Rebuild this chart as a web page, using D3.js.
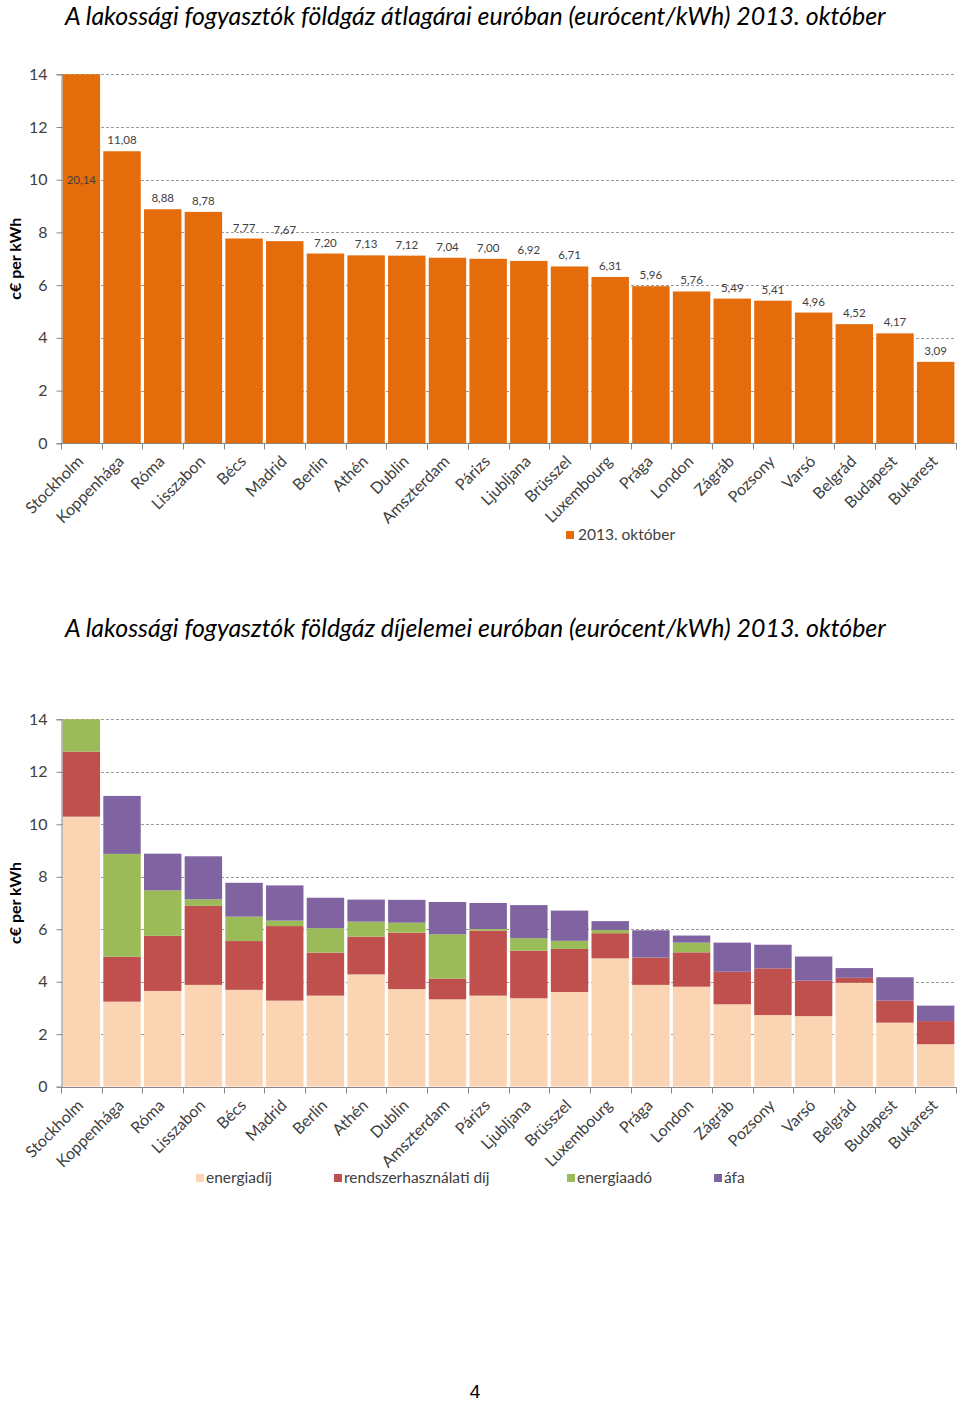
<!DOCTYPE html>
<html><head><meta charset="utf-8">
<script src="https://cdn.jsdelivr.net/npm/d3@7"></script>
<style>body{margin:0;background:#fff}svg{display:block}</style>
</head><body><svg id="c" width="960" height="1401"></svg>
<script>
const categories = ["Stockholm","Koppenhága","Róma","Lisszabon","Bécs","Madrid","Berlin","Athén","Dublin","Amszterdam","Párizs","Ljubljana","Brüsszel","Luxembourg","Prága","London","Zágráb","Pozsony","Varsó","Belgrád","Budapest","Bukarest"];
const avgPrices = [20.14,11.08,8.88,8.78,7.77,7.67,7.20,7.13,7.12,7.04,7.00,6.92,6.71,6.31,5.96,5.76,5.49,5.41,4.96,4.52,4.17,3.09];
const energiadij = [10.29,3.24,3.65,3.88,3.69,3.28,3.47,4.28,3.72,3.33,3.47,3.37,3.61,4.89,3.88,3.81,3.14,2.73,2.69,3.96,2.44,1.62];
const rendszerdij = [2.48,1.71,2.10,3.01,1.86,2.84,1.64,1.44,2.15,0.79,2.48,1.81,1.64,0.96,1.04,1.31,1.24,1.78,1.35,0.19,0.84,0.88];
const energiaado = [3.34,3.92,1.73,0.25,0.93,0.21,0.93,0.57,0.38,1.69,0.06,0.48,0.31,0.12,0,0.37,0,0,0,0,0,0];
const afa = [4.03,2.21,1.40,1.64,1.29,1.34,1.16,0.84,0.87,1.23,0.99,1.26,1.15,0.34,1.04,0.27,1.11,0.90,0.92,0.37,0.89,0.59];
const yTicks = [0,2,4,6,8,10,12,14];
const seriesNames = ["energiadíj","rendszerhasználati díj","energiaadó","áfa"];
const seriesColors = ["#FBD4B4","#C0504D","#9BBB59","#8064A2"];
const barColor = "#E46C0A";
const title1 = "A lakossági fogyasztók földgáz átlagárai euróban (eurócent/kWh) 2013. október";
const title2 = "A lakossági fogyasztók földgáz díjelemei euróban (eurócent/kWh) 2013. október";
const yTitle = "c€ per kWh";
const legend1 = "2013. október";

const FONT = "Lato, 'Open Sans', sans-serif";
const svg = d3.select("#c");
const X0 = 61, X1 = 956;
const x = d3.scaleBand().domain(categories).range([X0, X1]).paddingInner(0.08).paddingOuter(0.04);

function fitText(sel, target) {
  const w = sel.node().getComputedTextLength();
  const fs = parseFloat(sel.attr("font-size"));
  sel.attr("font-size", fs * target / w);
}

function title(txt, y) {
  const t = svg.append("text").attr("x", 65).attr("y", y).attr("font-family", FONT)
    .attr("font-style", "italic").attr("font-size", 22).attr("fill", "#000").text(txt);
  fitText(t, 821);
}

function frame(y, id) {
  const g = svg.append("g");
  g.selectAll("line.grid").data(yTicks.filter(d => d > 0)).join("line")
    .attr("x1", X0).attr("x2", X1).attr("y1", d => Math.round(y(d)) + 0.5).attr("y2", d => Math.round(y(d)) + 0.5)
    .attr("stroke", "#9a9a9a").attr("stroke-dasharray", "3,2").attr("stroke-width", 1);
  svg.append("clipPath").attr("id", id).append("rect")
    .attr("x", X0).attr("y", y(14)).attr("width", X1 - X0).attr("height", y(0) - y(14));
  return g;
}

function axes(y) {
  const g = svg.append("g");
  const yAx = g.append("g").attr("transform", `translate(${X0 + 0.5},0)`)
    .call(d3.axisLeft(y).tickValues(yTicks).tickSize(5).tickPadding(9).tickFormat(d3.format("d")));
  yAx.select(".domain").attr("stroke", "#868686");
  yAx.selectAll(".tick line").attr("stroke", "#868686");
  yAx.selectAll(".tick text").attr("font-family", FONT).attr("font-size", 16).attr("fill", "#404040");
  const y0 = Math.round(y(0)) + 0.5;
  g.append("line").attr("x1", X0).attr("x2", X1 + 1).attr("y1", y0).attr("y2", y0).attr("stroke", "#868686");
  g.selectAll("line.xt").data(d3.range(categories.length + 1)).join("line")
    .attr("x1", i => Math.round(X0 + i * x.step()) + 0.5).attr("x2", i => Math.round(X0 + i * x.step()) + 0.5)
    .attr("y1", y0).attr("y2", y0 + 6).attr("stroke", "#868686");
  g.selectAll("text.xl").data(categories).join("text")
    .attr("transform", d => `translate(${x(d) + x.bandwidth() / 2 - 1},${y0 + 15}) rotate(-45)`)
    .attr("text-anchor", "end").attr("dy", "0.35em")
    .attr("font-family", FONT).attr("font-size", 16).attr("fill", "#404040").text(d => d);
  const yc = (y(0) + y(14)) / 2;
  g.append("text").attr("transform", `translate(21,${yc}) rotate(-90)`).attr("text-anchor", "middle")
    .attr("font-family", FONT).attr("font-size", 16).attr("font-weight", "bold").attr("fill", "#000").text(yTitle);
}

// ---- Chart 1 ----
title(title1, 25);
const y1 = d3.scaleLinear().domain([0, 14]).range([443.3, 74.3]);
frame(y1, "clip1");
svg.append("g").attr("clip-path", "url(#clip1)").selectAll("rect").data(categories).join("rect")
  .attr("x", d => x(d)).attr("width", x.bandwidth())
  .attr("y", (d, i) => y1(avgPrices[i])).attr("height", (d, i) => y1(0) - y1(avgPrices[i]))
  .attr("fill", barColor);
svg.append("g").selectAll("text").data(categories).join("text")
  .attr("x", d => x(d) + x.bandwidth() / 2)
  .attr("y", (d, i) => avgPrices[i] > 14 ? y1(10) + 4 : y1(avgPrices[i]) - 7)
  .attr("text-anchor", "middle").attr("font-family", FONT).attr("font-size", 11.5).attr("fill", "#404040")
  .text((d, i) => d3.format(".2f")(avgPrices[i]).replace(".", ","));
axes(y1);
const lg1 = svg.append("g").attr("transform", "translate(566,531)");
lg1.append("rect").attr("width", 8).attr("height", 8).attr("fill", barColor);
lg1.append("text").attr("x", 12).attr("y", 9).attr("font-family", FONT).attr("font-size", 15.5).attr("fill", "#404040").text(legend1);

// ---- Chart 2 ----
title(title2, 637);
const y2 = d3.scaleLinear().domain([0, 14]).range([1086.7, 719.3]);
frame(y2, "clip2");
const table = categories.map((c, i) => ({cat: c, s0: energiadij[i], s1: rendszerdij[i], s2: energiaado[i], s3: afa[i]}));
const stack = d3.stack().keys(["s0", "s1", "s2", "s3"])(table);
svg.append("g").attr("clip-path", "url(#clip2)").selectAll("g").data(stack).join("g")
  .attr("fill", (d, i) => seriesColors[i])
  .selectAll("rect").data(d => d).join("rect")
  .attr("x", d => x(d.data.cat)).attr("width", x.bandwidth())
  .attr("y", d => y2(d[1])).attr("height", d => y2(d[0]) - y2(d[1]));
axes(y2);
const lgPos = [196, 334, 567, 714];
const lg2 = svg.append("g").selectAll("g").data(seriesNames).join("g")
  .attr("transform", (d, i) => `translate(${lgPos[i]},1174)`);
lg2.append("rect").attr("width", 8).attr("height", 8).attr("fill", (d, i) => seriesColors[i]);
lg2.append("text").attr("x", 10).attr("y", 9).attr("font-family", FONT).attr("font-size", 15.5).attr("fill", "#404040").text(d => d);

svg.append("text").attr("x", 475).attr("y", 1398).attr("text-anchor", "middle").attr("font-family", "'Liberation Sans', Arial, sans-serif")
  .attr("font-size", 19).attr("fill", "#000").text("4");
</script></body></html>
